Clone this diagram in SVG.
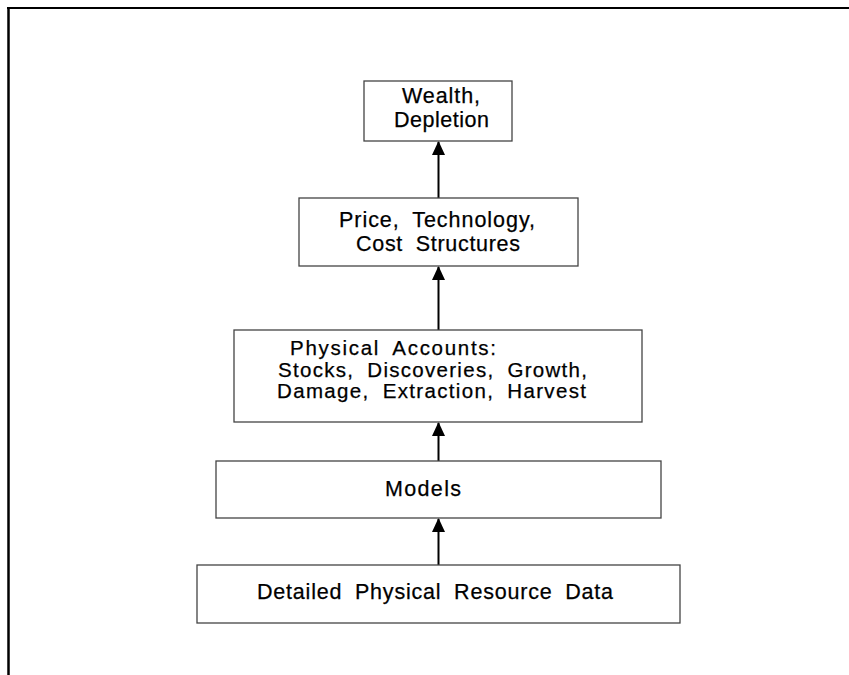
<svg xmlns="http://www.w3.org/2000/svg" width="849" height="675" viewBox="0 0 849 675">
  <style>
    .box { fill: #ffffff; stroke: #444444; stroke-width: 1.3; }
    .lbl { font-family: "Liberation Sans", Arial, Helvetica, sans-serif; font-size: 21.5px; fill: #000000; stroke: #000000; stroke-width: 0.25; word-spacing: 6px; }
    .tight { font-size: 20.5px; }
    .conn { stroke: #000000; stroke-width: 2; fill: none; }
    .frame { stroke: #000000; fill: none; }
  </style>
  <defs>
    <marker id="head" viewBox="0 0 14 14" refX="13" refY="7" markerWidth="14" markerHeight="14" markerUnits="userSpaceOnUse" orient="auto">
      <path d="M0,0.5 L14,7 L0,13.5 Z" fill="#000000"/>
    </marker>
  </defs>

  <rect width="849" height="675" fill="#ffffff"/>

  <!-- page frame: top rule and left rule -->
  <g id="frame">
    <line class="frame" x1="7" y1="8" x2="849" y2="8" stroke-width="2.2"/>
    <line class="frame" x1="8.5" y1="7" x2="8.5" y2="675" stroke-width="2.5"/>
  </g>

  <!-- connectors, each pointing upward into the next layer -->
  <g id="connectors">
    <line class="conn" x1="438.5" y1="198" x2="438.5" y2="142" marker-end="url(#head)"/>
    <line class="conn" x1="438.5" y1="330" x2="438.5" y2="267" marker-end="url(#head)"/>
    <line class="conn" x1="438.5" y1="461" x2="438.5" y2="423" marker-end="url(#head)"/>
    <line class="conn" x1="438.5" y1="565" x2="438.5" y2="519" marker-end="url(#head)"/>
  </g>

  <g id="wealth">
    <rect class="box" x="364" y="81" width="148" height="60"/>
    <text class="lbl" x="402" y="103" textLength="78" lengthAdjust="spacing">Wealth,</text>
    <text class="lbl" x="394" y="127" textLength="95" lengthAdjust="spacing">Depletion</text>
  </g>

  <g id="price">
    <rect class="box" x="299" y="198" width="279" height="68"/>
    <text class="lbl" x="339" y="227" textLength="196" lengthAdjust="spacing">Price, Technology,</text>
    <text class="lbl" x="356" y="251" textLength="164" lengthAdjust="spacing">Cost Structures</text>
  </g>

  <g id="physical-accounts">
    <rect class="box" x="234" y="330" width="408" height="92"/>
    <text class="lbl tight" x="290" y="355" textLength="206" lengthAdjust="spacing">Physical Accounts:</text>
    <text class="lbl tight" x="278" y="376.5" textLength="309" lengthAdjust="spacing">Stocks, Discoveries, Growth,</text>
    <text class="lbl tight" x="277" y="398" textLength="309" lengthAdjust="spacing">Damage, Extraction, Harvest</text>
  </g>

  <g id="models">
    <rect class="box" x="216" y="461" width="445" height="57"/>
    <text class="lbl" x="385" y="496" textLength="76" lengthAdjust="spacing">Models</text>
  </g>

  <g id="resource-data">
    <rect class="box" x="197" y="565" width="483" height="58"/>
    <text class="lbl" x="257" y="599" textLength="356" lengthAdjust="spacing">Detailed Physical Resource Data</text>
  </g>
</svg>
